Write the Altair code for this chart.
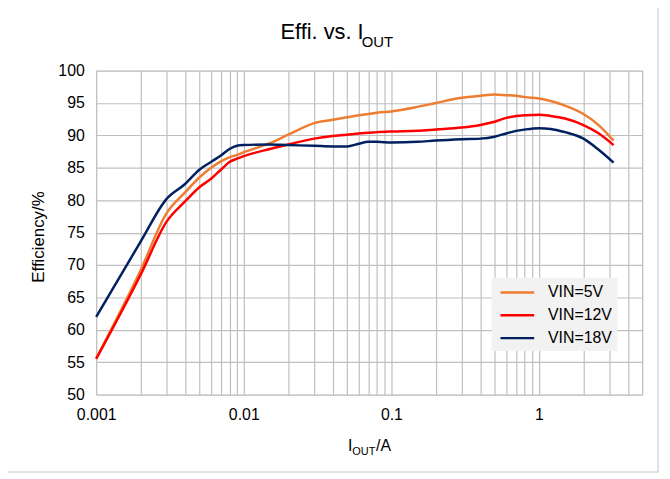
import altair as alt
import pandas as pd

# ---- data ----
iout = [0.001, 0.002, 0.003, 0.004, 0.005, 0.006, 0.007, 0.008, 0.009, 0.01,
        0.015, 0.02, 0.03, 0.04, 0.05, 0.06, 0.07, 0.08, 0.1, 0.15, 0.2, 0.3,
        0.4, 0.5, 0.6, 0.7, 0.8, 1, 1.2, 1.5, 2, 2.5, 3.2]
eff_5v = [55.6, 69.2, 78.0, 81.2, 83.5, 85.0, 86.0, 86.6, 87.0, 87.4,
          88.8, 90.1, 91.9, 92.4, 92.8, 93.1, 93.3, 93.5, 93.7, 94.4, 95.0, 95.8,
          96.1, 96.3, 96.2, 96.1, 95.9, 95.7, 95.3, 94.6, 93.3, 91.7, 89.2]
eff_12v = [55.5, 68.5, 76.7, 79.8, 82.0, 83.3, 84.7, 85.9, 86.4, 86.8,
           87.9, 88.6, 89.5, 89.9, 90.1, 90.3, 90.4, 90.5, 90.6, 90.7, 90.9, 91.2,
           91.6, 92.1, 92.7, 93.0, 93.1, 93.2, 93.0, 92.6, 91.6, 90.4, 88.5]
eff_18v = [62.0, 73.6, 80.2, 82.5, 84.7, 85.9, 86.9, 87.9, 88.4, 88.5,
           88.6, 88.5, 88.4, 88.3, 88.3, 88.7, 89.0, 89.0, 88.9, 89.0, 89.2, 89.4,
           89.5, 89.8, 90.3, 90.7, 90.9, 91.1, 91.0, 90.5, 89.5, 87.9, 85.8]
series_names = ["VIN=5V", "VIN=12V", "VIN=18V"]
series_colors = ["#ED7D31", "#FF0000", "#002060"]

x_grid = [m * 10 ** e for e in (-3, -2, -1, 0) for m in range(1, 10) if m * 10 ** e <= 5]
x_labels = [0.001, 0.01, 0.1, 1]
y_ticks = list(range(50, 101, 5))

rows = []
for name, vals in zip(series_names, [eff_5v, eff_12v, eff_18v]):
    for xv, yv in zip(iout, vals):
        rows.append({"iout": xv, "eff": yv, "series": name})
df = pd.DataFrame(rows)

FONT = "Liberation Sans"
W, H = 551, 327

lines = alt.Chart(df).mark_line(strokeWidth=2.5, interpolate="monotone").encode(
    x=alt.X("iout:Q",
            scale=alt.Scale(type="log", domain=[0.001, 5], nice=False),
            axis=alt.Axis(values=x_grid, grid=True, gridColor="#BFBFBF", gridWidth=1.2,
                          ticks=False, domain=False, labelFontSize=16, labelColor="#000",
                          labelFont=FONT, labelPadding=12, labelFlush=False,
                          labelExpr="indexof([0.001,0.01,0.1,1], datum.value) >= 0 ? datum.label : ''",
                          format="~g", title=None)),
    y=alt.Y("eff:Q",
            scale=alt.Scale(domain=[50, 100], nice=False, zero=False),
            axis=alt.Axis(values=y_ticks, grid=True, gridColor="#BFBFBF", gridWidth=1.2,
                          ticks=False, domain=False, labelFontSize=16, labelColor="#000",
                          labelFont=FONT, labelPadding=12, title=None)),
    color=alt.Color("series:N",
                    scale=alt.Scale(domain=series_names, range=series_colors),
                    legend=alt.Legend(title=None, orient="none", legendX=399, legendY=209,
                                      fillColor="#F2F2F2", padding=5,
                                      symbolType="M-2,0H2", symbolSize=289,
                                      symbolStrokeWidth=2.5, symbolOffset=11,
                                      labelFontSize=16, labelFont=FONT, labelColor="#000",
                                      rowPadding=5, labelOffset=21)),
    order=alt.Order("iout:Q"),
)

one = pd.DataFrame({"k": [0]})

border = alt.Chart(one).mark_rect(fill=None, stroke="#D9D9D9", strokeWidth=1.5, clip=False).encode(
    x=alt.value(-93), x2=alt.value(567), y=alt.value(-66), y2=alt.value(405))

title_main = alt.Chart(one).mark_text(text="Effi. vs. I", font=FONT, fontSize=22, align="left",
                                      baseline="alphabetic", color="#000").encode(
    x=alt.value(186), y=alt.value(-32))
title_sub = alt.Chart(one).mark_text(text="OUT", font=FONT, fontSize=15, align="left",
                                     baseline="alphabetic", color="#000").encode(
    x=alt.value(268), y=alt.value(-24))

xt_i = alt.Chart(one).mark_text(text="I", font=FONT, fontSize=16, align="left",
                                baseline="alphabetic", color="#000").encode(
    x=alt.value(254), y=alt.value(384))
xt_sub = alt.Chart(one).mark_text(text="OUT", font=FONT, fontSize=11, align="left",
                                  baseline="alphabetic", color="#000").encode(
    x=alt.value(258.5), y=alt.value(387.5))
xt_a = alt.Chart(one).mark_text(text="/A", font=FONT, fontSize=16, align="left",
                                baseline="alphabetic", color="#000").encode(
    x=alt.value(282.5), y=alt.value(384))

yt = alt.Chart(one).mark_text(text="Efficiency/%", font=FONT, fontSize=17, angle=270,
                              align="center", baseline="middle", color="#000").encode(
    x=alt.value(-58), y=alt.value(168))

chart = alt.layer(border, lines, title_main, title_sub, xt_i, xt_sub, xt_a, yt).properties(
    width=W, height=H,
    autosize=alt.AutoSizeParams(type="none"),
    padding={"left": 89, "top": 61, "right": 20, "bottom": 80},
).configure_view(stroke="#404040", strokeWidth=1.5).configure(background="white")

chart.save("out.html", embed_options={"renderer": "svg", "actions": False})
